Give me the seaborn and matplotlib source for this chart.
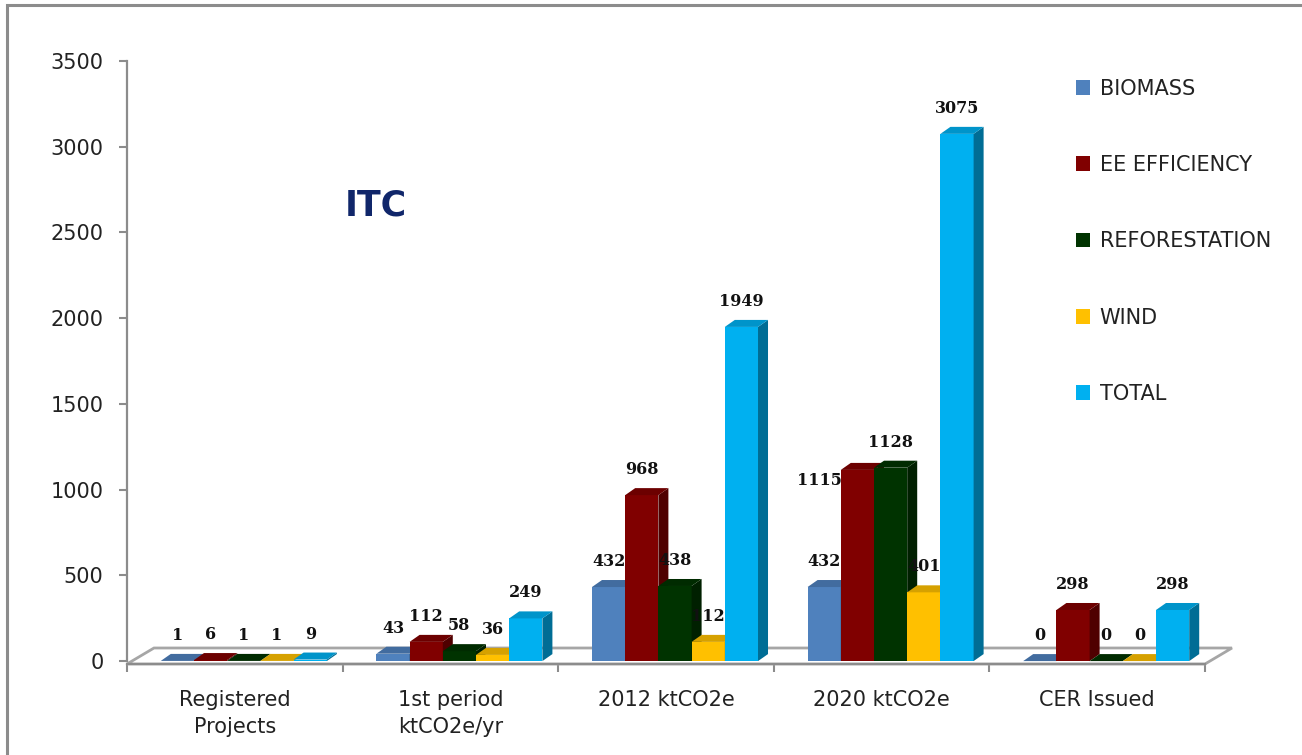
import numpy as np
import pandas as pd
import seaborn as sns
import matplotlib.pyplot as plt
from matplotlib.patches import Polygon, Patch, Rectangle
from matplotlib.ticker import FixedLocator

categories = ["Registered\nProjects", "1st period\nktCO2e/yr", "2012 ktCO2e",
              "2020 ktCO2e", "CER Issued"]
series = ["BIOMASS", "EE EFFICIENCY", "REFORESTATION", "WIND", "TOTAL"]
biomass = [1, 43, 432, 432, 0]
ee_efficiency = [6, 112, 968, 1115, 298]
reforestation = [1, 58, 438, 1128, 0]
wind = [1, 36, 112, 401, 0]
total = [9, 249, 1949, 3075, 298]
colors = ["#4F81BD", "#800000", "#003300", "#FFC000", "#00B0F0"]

rows = []
for name, vals in zip(series, [biomass, ee_efficiency, reforestation, wind, total]):
    for c, v in zip(categories, vals):
        rows.append({"category": c, "series": name, "value": v})
df = pd.DataFrame(rows)

sns.set_style("white")
plt.rcParams["font.family"] = ["DejaVu Sans"]

fig = plt.figure(figsize=(13.02, 7.55), dpi=100)
ax = fig.add_axes([127 / 1302, 1 - 664 / 755, (1205 - 127) / 1302, (664 - 61) / 755])

sns.barplot(data=df, x="category", y="value", hue="series", hue_order=series,
            order=categories, palette=colors, width=0.77, saturation=1,
            linewidth=0, legend=False, ax=ax)

ylo = -17
ax.set_xlim(-0.5, 4.5)
ax.set_ylim(ylo, 3500)

# pseudo 3D depth
px_x = 1078 / 5.0
px_y = 603 / (3500 - ylo)
dx = 10 / px_x
dy = 7 / px_y
shift = 9 / px_x


def shade(c, f):
    r, g, b = c[:3]
    return (r * f, g * f, b * f)


bars = sorted(ax.patches, key=lambda p: p.get_x())
for i, p in enumerate(bars):
    p.set_x(p.get_x() + shift)
    x, w, h = p.get_x(), p.get_width(), p.get_height()
    fc = p.get_facecolor()
    z = 3 + i * 0.01
    p.set_zorder(z)
    side = Polygon([(x + w, 0), (x + w + dx, dy), (x + w + dx, h + dy), (x + w, h)],
                   closed=True, fc=shade(fc, 0.62), lw=0, zorder=z)
    top = Polygon([(x, h), (x + w, h), (x + w + dx, h + dy), (x + dx, h + dy)],
                  closed=True, fc=shade(fc, 0.84), lw=0, zorder=z)
    ax.add_patch(side)
    ax.add_patch(top)
    off = (0, 17)
    if i == 16:  # 1115 label sits left of its bar
        off = (-38, -19)
    ax.annotate(f"{int(round(h))}", xy=(x + w / 2, h), xytext=off,
                textcoords="offset pixels", ha="center", va="bottom",
                fontsize=11.5, fontweight="bold", family="DejaVu Serif",
                color="#111111", zorder=10)

# floor
depth_x = 27 / px_x
back_y = ylo + 16 / px_y
floor = Polygon([(-0.5, ylo), (4.5, ylo), (4.5 + depth_x, back_y), (-0.5 + depth_x, back_y)],
                closed=True, fc="white", ec="#A6A6A6", lw=2, zorder=1, clip_on=False)
ax.add_patch(floor)

sns.despine(ax=ax, top=True, right=True)
for s in ["left", "bottom"]:
    ax.spines[s].set_color("#8C8C8C")
    ax.spines[s].set_linewidth(1.6)
ax.spines["left"].set_bounds(0, 3500)

ax.set_yticks(np.arange(0, 3501, 500))
ax.tick_params(axis="y", direction="out", length=6, width=1.5, color="#8C8C8C",
               labelsize=15, labelcolor="#222222", pad=11, left=True)
ax.set_xticks(range(len(categories)))
ax.set_xticklabels(categories)
ax.xaxis.set_minor_locator(FixedLocator(np.arange(-0.5, 4.6, 1.0)))
ax.tick_params(axis="x", which="major", length=0, labelsize=15,
               labelcolor="#222222", pad=19)
ax.tick_params(axis="x", which="minor", direction="out", length=6, width=1.5,
               color="#8C8C8C", bottom=True)
for lab in ax.get_xticklabels():
    lab.set_linespacing(1.4)
    lab.set_verticalalignment("top")
ax.set_xlabel("")
ax.set_ylabel("")

handles = [Patch(facecolor=c, edgecolor="none") for c in colors]
fig.legend(handles, series, loc="upper left", bbox_to_anchor=(1057 / 1302, 1 - 60 / 755),
           frameon=False, fontsize=15, handlelength=0.7, handleheight=0.7,
           handletextpad=0.45, labelspacing=2.7, labelcolor="#222222")

fig.text(345 / 1302, 1 - 205 / 755, "ITC", fontsize=25, fontweight="bold",
         color="#10266A", va="center", ha="left")

fig.patches.append(Rectangle((7 / 1302, -0.1), 1.2, 1.1 + (750 / 755) - 1.0,
                             transform=fig.transFigure, fill=False,
                             ec="#8C8C8C", lw=2.2, figure=fig))

fig.savefig("out.png", dpi=100)
